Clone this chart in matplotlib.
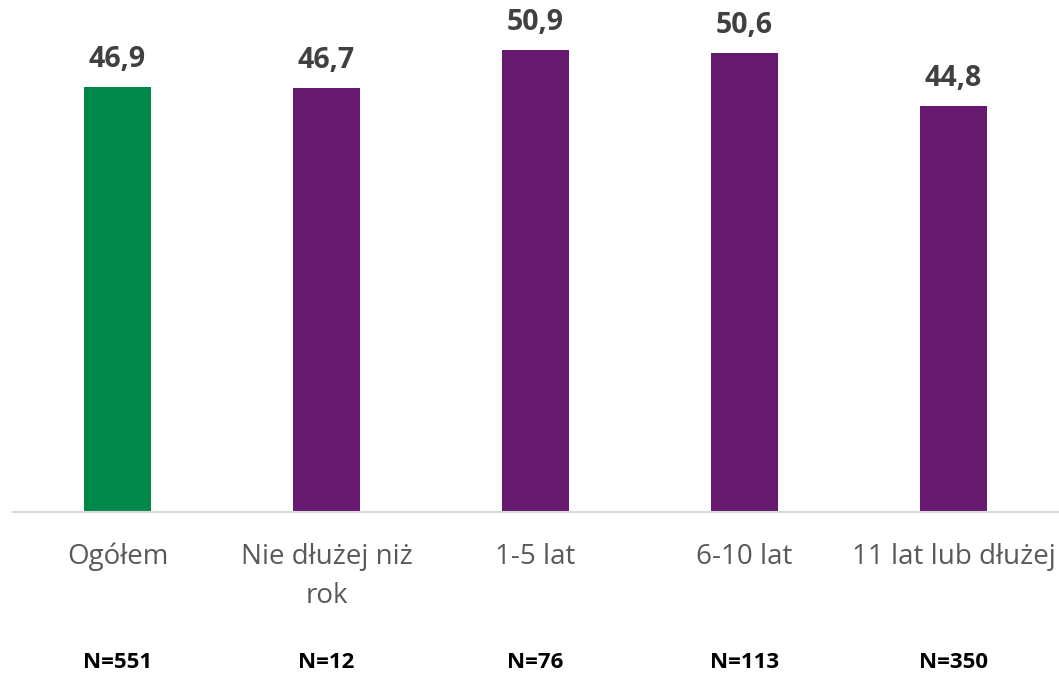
import matplotlib
matplotlib.use("Agg")
import matplotlib.pyplot as plt
from matplotlib import transforms

categories = ["Ogółem", "Nie dłużej niż\nrok", "1-5 lat", "6-10 lat", "11 lat lub dłużej"]
values = [46.9, 46.7, 50.9, 50.6, 44.8]
value_labels = ["46,9", "46,7", "50,9", "50,6", "44,8"]
n_labels = ["N=551", "N=12", "N=76", "N=113", "N=350"]
colors = ["#00884B", "#661A6F", "#661A6F", "#661A6F", "#661A6F"]

plt.rcParams['font.family'] = ['Open Sans', 'DejaVu Sans']

W, H = 1059, 675
fig = plt.figure(figsize=(W / 100, H / 100), dpi=100)
ax = fig.add_axes([13 / W, 1 - 512 / H, 1045 / W, 512 / H])

x = list(range(len(categories)))
ax.bar(x, values, width=0.316, color=colors, zorder=2)
ax.set_xlim(-0.5, len(categories) - 0.5)
ax.set_ylim(0, 56.45)

for s in ["top", "right", "left"]:
    ax.spines[s].set_visible(False)
ax.spines["bottom"].set_color("#D9D9D9")
ax.spines["bottom"].set_linewidth(1.5)
ax.set_yticks([])
ax.set_xticks([])

for xi, v, lab in zip(x, values, value_labels):
    ax.annotate(lab, (xi, v), xytext=(0, 14.4), textcoords="offset points",
                ha="center", va="baseline", fontsize=20.5, fontweight="bold",
                color="#404040")

trans = transforms.blended_transform_factory(ax.transData, fig.transFigure)
for xi, c in zip(x, categories):
    for k, line in enumerate(c.split("\n")):
        ax.text(xi, 1 - (564 + 39 * k) / H, line, transform=trans, ha="center",
                va="baseline", fontsize=20, color="#595959")

for xi, n in zip(x, n_labels):
    ax.text(xi, 1 - 668 / H, n, transform=trans, ha="center", va="baseline",
            fontsize=16, fontweight="bold", color="#000000")

fig.savefig("out.png", dpi=100)
